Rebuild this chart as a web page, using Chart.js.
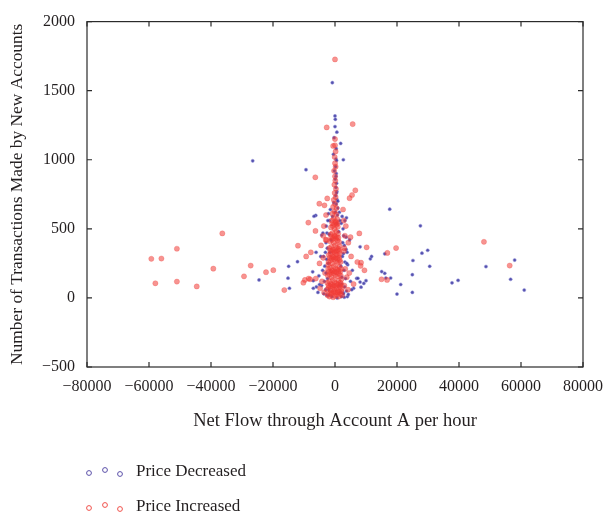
<!DOCTYPE html>
<html>
<head>
<meta charset="utf-8">
<script src="https://cdn.jsdelivr.net/npm/chart.js@4.4.1/dist/chart.umd.min.js"></script>
<style>
  body { margin: 0; background: #fff; }
  #wrap { position: relative; width: 607px; height: 517px; }
  .legend { position: absolute; left: 84px; top: 0; font-family: "Liberation Serif", serif; font-size: 17px; color: #231f20; }
  .legend .row { position: absolute; left: 0; white-space: nowrap; height: 20px; line-height: 20px; }
  .legend svg { vertical-align: middle; margin-right: 8px; }
</style>
</head>
<body>
<div id="wrap">
  <canvas id="grafico"></canvas>
  <div class="legend">
    <div class="row" style="top:461px"><svg width="44" height="14"><circle cx="5" cy="8" r="2.4" fill="none" stroke="#5a4fa8" stroke-width="1"/><circle cx="21" cy="5" r="2.4" fill="none" stroke="#5a4fa8" stroke-width="1"/><circle cx="36" cy="9" r="2.4" fill="none" stroke="#5a4fa8" stroke-width="1"/></svg>Price Decreased</div>
    <div class="row" style="top:496px"><svg width="44" height="14"><circle cx="5" cy="8" r="2.4" fill="none" stroke="#f0504a" stroke-width="1"/><circle cx="21" cy="5" r="2.4" fill="none" stroke="#f0504a" stroke-width="1"/><circle cx="36" cy="9" r="2.4" fill="none" stroke="#f0504a" stroke-width="1"/></svg>Price Increased</div>
  </div>
</div>
<script>
// Eixos
const xTicks = [-80000, -60000, -40000, -20000, 0, 20000, 40000, 60000, 80000];
const yTicks = [-500, 0, 500, 1000, 1500, 2000];
const seriesNames = ["Price Decreased", "Price Increased"];

// Price Decreased (azul)
const decX = [
  -860, 0, 100, 1830, 2690, 300, 500, -26550, -9355, 17650, 27550, 29900, 28050, 25150, 30550, 24950, 24950,
  20000, 21200, 16050, 16050, 17950, 37750, 39700, 48700, 57950, 56650, 61050, 11400, 9300, 8400, 7000,
  -14950, -15160, -14700, -12100, -24500, -6200, -6100, 3700, 3200, 2000, 6000, 5400, 3000, 4000, -6000, -4300,
  -7200, -7000, -7000, -5000, 10000, 7400, 8100, 15060, 16400, 8100, 11800, 3600, 3600, -4300, -6770, 4300, 2700,
  200, 400, 100, 500, 300, 600, 200, 700, 400, 900, 100, 800,
  -2800, -2600, -2900, -3100, -2700, -3300, -2900, -3400, -3000, -2600, 2600, 2800, 3000, 2700, 3200, 2900, 3400,
  3100, 2700, -1500, 1400, -1800, 1600, -2000, 1800, -1000, 700, -400, 900, -3700, 3900, -4000, 4100, -3600, 3700,
  -5200, 5000, -5500, 5600, 1200, -1200, 2200, -2200, 1500, -1600, 600, -800,
  -2300, -2500, -2100, -2400, 2300, 2500, 2100, 2400, -1900, 1900, -4600, 4700, -3900, 3800, -2000, 2100,
  -500, 400, -300, 600, 0, 300, -200, 500
];
const decY = [
  1558, 1317, 1293, 1118, 1000, 1005, 995, 992, 928, 642, 522, 345, 324, 271, 229, 168, 40,
  28, 97, 319, 178, 144, 109, 127, 227, 274, 135, 57, 283, 105, 78, 142,
  229, 143, 70, 262, 130, 597, 330, 580, 560, 540, 70, 60, 5, 10, 80, 90,
  189, 125, 70, 97, 125, 142, 115, 191, 144, 370, 300, 440, 350, 455, 591, 25, 37,
  950, 900, 860, 830, 800, 770, 740, 710, 680, 650, 620, 600,
  520, 470, 400, 330, 280, 230, 180, 120, 60, 20, 500, 450, 380, 320, 260, 200, 140,
  80, 30, 640, 620, 560, 560, 60, 40, 10, 0, 690, 700, 300, 330, 200, 240, 30, 50,
  160, 120, 40, 200, 480, 420, 150, 250, 90, 330, 540, 590,
  560, 360, 610, 140, 590, 400, 100, 300, 460, 230, 300, 420, 470, 250, 20, 10,
  1040, 1080, 1160, 1200, 1240, 880, 920, 760
];

// Price Increased (vermelho)
const incX = [
  0, -2680, 5700, 0, -600, 0, 200, -100, -6350, 6550, 5500, 4700, -5060, -3400, -8600, -6300, 7850, -36350,
  -51000, -59250, -56000, -57950, -51000, -44600, -39250, -27200, -29350, -22250, -19900, -16350, -11950,
  -10200, -9700, -8500, -8000, -7800, -9300, 19700, 16900, 15000, 16800, 10200, 8400, 9500, 48050, 56350,
  -2400, -1800, -1200, -600, 0, 600, 1200, 1800, 2300,
  -2600, -2000, -1400, -800, -200, 400, 1000, 1600, 2200,
  -2500, -1900, -1300, -700, -100, 500, 1100, 1700, 2100,
  -2300, -1700, -1100, -500, 100, 700, 1300, 1900,
  -2200, -1600, -1000, -400, 200, 800, 1400, 1900,
  -2100, -1500, -900, -300, 300, 900, 1500, 1800,
  -2000, -1400, -800, -200, 400, 1000, 1500,
  -1800, -1200, -600, 0, 600, 1200, 1500,
  -1600, -1000, -400, 200, 800, 1300,
  -1400, -800, -200, 400, 1000,
  -1300, -700, -100, 500, 900,
  -1000, -400, 200, 700, -800, -200, 400, -600, 0, 500,
  -400, 200, -100, 300, -200, 100, 0, -300, 200, 0,
  -3500, -3200, -3800, -4200, 3000, 3300, 2900, 3800, 4200, -3000, 3200, -3600, 2800, -5000, 5200,
  -4800, 4600, -2900, 2600, -6200, 6000, -4500, 4300, 3500, -2500, 7200, 8270, -3800, -2700, 3000, 5000,
  -2100, -1500, -900, -300, 300, 900, 1500, 2000,
  -1900, -1300, -700, -100, 500, 1100, 1700,
  -1700, -1100, -500, 100, 700, 1300,
  -1500, -900, -300, 300, 900, 1400,
  -1200, -600, 0, 600, 1100,
  -900, -300, 300, 800,
  -1600, -1000, -400, 200, 800, 1400, 2000, -2200
];
const incY = [
  1726, 1234, 1258, 1150, 1100, 1105, 1060, 1020, 873, 779, 745, 722, 682, 670, 545, 485, 467, 467,
  356, 283, 285, 106, 118, 83, 212, 234, 156, 186, 201, 57, 378,
  110, 130, 140, 135, 330, 300, 361, 326, 135, 130, 366, 255, 200, 406, 234,
  20, 10, 30, 5, 15, 25, 10, 30, 20,
  60, 75, 55, 80, 60, 70, 50, 80, 65,
  110, 120, 100, 130, 115, 105, 125, 110, 135,
  160, 170, 150, 180, 165, 155, 175, 160,
  210, 220, 200, 230, 215, 205, 225, 210,
  260, 270, 250, 280, 265, 255, 275, 260,
  310, 320, 300, 330, 315, 305, 320,
  360, 370, 350, 380, 365, 355, 375,
  410, 420, 400, 430, 415, 405,
  460, 470, 450, 480, 465,
  510, 520, 500, 530, 515,
  560, 575, 555, 570, 610, 625, 605, 660, 680, 650,
  710, 730, 760, 790, 820, 850, 880, 920, 950, 975,
  40, 180, 290, 120, 90, 210, 340, 150, 60, 420, 450, 520, 560, 250, 300,
  70, 180, 600, 640, 140, 100, 380, 400, 520, 720, 260, 232, 450, 420, 360, 440,
  90, 85, 95, 90, 85, 95, 90, 100,
  190, 185, 195, 190, 185, 195, 190,
  290, 285, 295, 290, 285, 290,
  340, 345, 335, 340, 345, 340,
  440, 435, 445, 440, 435,
  540, 535, 545, 540,
  35, 40, 45, 40, 40, 45, 50, 240
];

const toPoints = (xs, ys) => xs.map((x, i) => ({ x: x, y: ys[i] }));

const fonte = { family: "'Liberation Serif', serif", size: 16 };
const corTexto = "#231f20";

// moldura com marcas de escala para dentro
const moldura = {
  id: "moldura",
  afterDraw(chart) {
    const { ctx, chartArea: a, scales } = chart;
    ctx.save();
    ctx.strokeStyle = "#2b2b2b";
    ctx.lineWidth = 1.2;
    ctx.strokeRect(a.left, a.top, a.right - a.left, a.bottom - a.top);
    const len = 5;
    ctx.beginPath();
    xTicks.forEach(v => {
      const px = scales.x.getPixelForValue(v);
      ctx.moveTo(px, a.bottom); ctx.lineTo(px, a.bottom - len);
      ctx.moveTo(px, a.top); ctx.lineTo(px, a.top + len);
    });
    yTicks.forEach(v => {
      const py = scales.y.getPixelForValue(v);
      ctx.moveTo(a.left, py); ctx.lineTo(a.left + len, py);
      ctx.moveTo(a.right, py); ctx.lineTo(a.right - len, py);
    });
    ctx.stroke();
    ctx.restore();
  }
};

const fmt = v => (v < 0 ? "\u2212" + Math.abs(v) : String(v));

new Chart(document.getElementById("grafico"), {
  type: "scatter",
  data: {
    datasets: [
      {
        label: seriesNames[0],
        data: toPoints(decX, decY),
        backgroundColor: "rgba(55, 50, 160, 0.85)",
        borderColor: "rgba(150, 150, 220, 0.5)",
        borderWidth: 1,
        pointRadius: 1.6,
        order: 1
      },
      {
        label: seriesNames[1],
        data: toPoints(incX, incY),
        backgroundColor: "rgba(240, 60, 55, 0.55)",
        borderColor: "rgba(240, 60, 55, 0.25)",
        borderWidth: 1,
        pointRadius: 2.6,
        order: 0
      }
    ]
  },
  options: {
    responsive: true,
    maintainAspectRatio: false,
    animation: false,
    layout: { padding: { top: 14, right: 24, left: 0, bottom: 85 } },
    plugins: { legend: { display: false }, tooltip: { enabled: false } },
    scales: {
      x: {
        type: "linear",
        min: -80000, max: 80000,
        afterBuildTicks: s => { s.ticks = xTicks.map(v => ({ value: v })); },
        afterFit: s => { s.height = 65; s.paddingLeft = 0; s.paddingRight = 0; },
        grid: { display: false, drawTicks: false },
        border: { display: false },
        ticks: { font: fonte, color: corTexto, padding: 10, maxRotation: 0, callback: v => fmt(v) },
        title: { display: true, text: "Net Flow through Account A per hour", font: { family: fonte.family, size: 18.5 }, color: corTexto, padding: { top: 0, bottom: 0 } }
      },
      y: {
        type: "linear",
        min: -500, max: 2000,
        afterBuildTicks: s => { s.ticks = yTicks.map(v => ({ value: v })); },
        afterFit: s => { s.width = 87; },
        grid: { display: false, drawTicks: false },
        border: { display: false },
        ticks: { font: fonte, color: corTexto, padding: 12, callback: v => fmt(v) },
        title: { display: true, text: "Number of Transactions Made by New Accounts", font: { family: fonte.family, size: 17.4 }, color: corTexto, padding: { top: 7, bottom: 0 } }
      }
    }
  },
  plugins: [moldura]
});
</script>
</body>
</html>
